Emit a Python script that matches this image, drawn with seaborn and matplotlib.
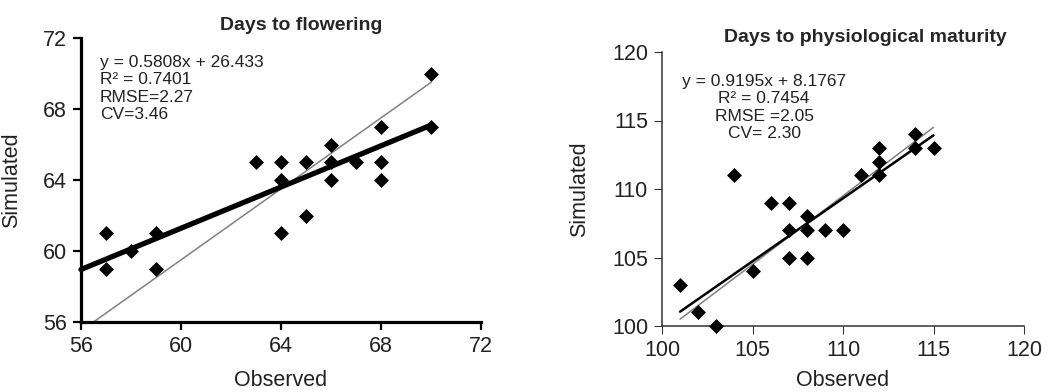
import numpy as np
import pandas as pd
import seaborn as sns
import matplotlib.pyplot as plt

# Days to flowering (observed vs simulated)
flower_obs = [57, 57, 58, 59, 59, 63, 64, 64, 64, 65, 65, 66, 66, 66, 67, 68, 68, 68, 70, 70]
flower_sim = [61, 59, 60, 61, 59, 65, 65, 64, 61, 65, 62, 66, 65, 64, 65, 67, 65, 64, 70, 67]
flower_fit = (0.5808, 26.433)
flower_fit_x = [56, 70]
flower_one_x = [56.5, 70]
flower_one_y = [56, 69.5]
flower_stats = "y = 0.5808x + 26.433\nR² = 0.7401\nRMSE=2.27\nCV=3.46"

# Days to physiological maturity
mat_obs = [101, 102, 103, 104, 105, 106, 107, 107, 107, 108, 108, 108, 109, 110,
           111, 112, 112, 112, 114, 114, 115]
mat_sim = [103, 101, 100, 111, 104, 109, 109, 107, 105, 108, 107, 105, 107, 107,
           111, 113, 112, 111, 114, 113, 113]
mat_fit = (0.9195, 8.1767)
mat_fit_x = [101, 115]
mat_one_x = [101, 115]
mat_one_y = [100.5, 114.5]
mat_stats = "y = 0.9195x + 8.1767\nR² = 0.7454\nRMSE =2.05\nCV= 2.30"

sns.set_style("ticks")
plt.rcParams['font.family'] = ['Liberation Sans', 'DejaVu Sans']

fig = plt.figure(figsize=(10.53, 3.92), dpi=100)
ax1 = fig.add_axes([81 / 1053, 70 / 392, 400 / 1053, 284 / 392])
ax2 = fig.add_axes([662 / 1053, 66 / 392, 362 / 1053, 274 / 392])


def draw(ax, obs, sim, fit, fit_x, one_x, one_y, fit_lw, spine_lw, spine_col):
    df = pd.DataFrame({"Observed": obs, "Simulated": sim})
    fx = np.array(fit_x, dtype=float)
    sns.lineplot(x=one_x, y=one_y, ax=ax, color="#808080", lw=1.1)
    sns.lineplot(x=fx, y=fit[0] * fx + fit[1], ax=ax, color="black", lw=fit_lw)
    sns.scatterplot(data=df, x="Observed", y="Simulated", ax=ax, marker="D",
                    s=58, color="black", edgecolor="black", linewidth=0, zorder=5)
    for side in ["top", "right"]:
        ax.spines[side].set_visible(False)
    for side in ["left", "bottom"]:
        ax.spines[side].set_linewidth(spine_lw)
        ax.spines[side].set_color(spine_col)
    ax.tick_params(direction="out", length=6, width=spine_lw * 0.7, color=spine_col,
                   labelsize=15.5, labelcolor="#222222", pad=4)
    ax.set_xlabel("Observed", fontsize=15.5, color="#222222")
    ax.set_ylabel("Simulated", fontsize=15.5, color="#222222")


draw(ax1, flower_obs, flower_sim, flower_fit, flower_fit_x, flower_one_x, flower_one_y,
     3.8, 2.3, "black")
ax1.set_xlim(56, 72)
ax1.set_ylim(56, 72)
ax1.set_xticks([56, 60, 64, 68, 72])
ax1.set_yticks([56, 60, 64, 68, 72])
ax1.yaxis.set_label_coords(-0.1475, 0.5)
ax1.xaxis.set_label_coords(0.5, -0.17)
ax1.text(0.0475, 0.94, flower_stats, transform=ax1.transAxes, ha="left", va="top",
         fontsize=12.5, color="#222222", linespacing=1.2)

draw(ax2, mat_obs, mat_sim, mat_fit, mat_fit_x, mat_one_x, mat_one_y,
     1.8, 1.1, "#333333")
ax2.set_xlim(100, 120)
ax2.set_ylim(100, 120)
ax2.set_xticks([100, 105, 110, 115, 120])
ax2.set_yticks([100, 105, 110, 115, 120])
ax2.yaxis.set_label_coords(-0.199, 0.5)
ax2.xaxis.set_label_coords(0.5, -0.162)
ax2.text(0.282, 0.92, mat_stats, transform=ax2.transAxes, ha="center", va="top",
         fontsize=12.5, color="#222222", linespacing=1.2)

fig.text(301 / 1053, 1 - 26 / 392, "Days to flowering", ha="center", va="center",
         fontsize=14, fontweight="bold")
fig.text(865 / 1053, 1 - 37 / 392, "Days to physiological maturity", ha="center",
         va="center", fontsize=14, fontweight="bold")

for ax in (ax1, ax2):
    for c in ax.collections:
        c.set_clip_on(False)
    for l in ax.lines:
        l.set_clip_on(False)

fig.savefig("out.png", dpi=100)
